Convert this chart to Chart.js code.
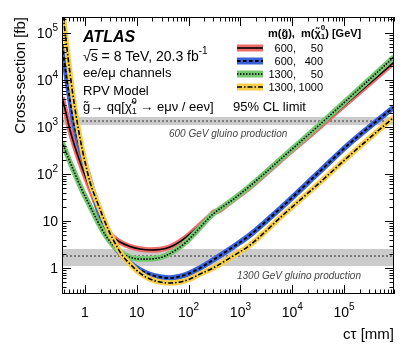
<!DOCTYPE html>
<html>
<head>
<meta charset="utf-8">
<script src="https://cdn.jsdelivr.net/npm/chart.js@4.4.0/dist/chart.umd.min.js"></script>
<style>
  html, body { margin: 0; padding: 0; background: #fff; }
  canvas { display: block; }
</style>
</head>
<body>
<canvas id="xsecChart" width="415" height="351"></canvas>
<script>
// c-tau [mm] and 95% CL cross-section limits [fb]
const ctRed = [0.36, 0.43, 0.513, 0.67, 0.914, 1.56, 2.33, 3.32, 4.74, 7.39, 11.5, 18.0, 28.1, 43.8, 68.2, 106, 166, 259, 309, 370, 505, 720, 1530, 6640, 30100, 131000, 920000];
const xsRed = [4350, 1990, 863, 324, 122, 26.6, 8.63, 4.80, 3.57, 2.87, 2.54, 2.42, 2.48, 2.80, 3.66, 5.29, 8.22, 12.8, 15.5, 16.3, 20.9, 28.0, 52.9, 219, 906, 3750, 24000];

const ctBlue = [0.36, 0.43, 0.53, 0.586, 0.733, 1.045, 1.56, 2.22, 3.04, 4.74, 7.39, 11.5, 18.0, 28.1, 43.8, 68.2, 106, 166, 296, 720, 1530, 6640, 30100, 131000, 920000];
const xsBlue = [55600, 14100, 3080, 1550, 529, 141, 30.8, 8.63, 3.94, 2.09, 1.28, 0.91, 0.727, 0.644, 0.613, 0.66, 0.78, 1.0, 1.48, 2.80, 5.04, 20.9, 100, 457, 2670];

const ctGreen = [0.36, 0.43, 0.513, 0.67, 0.875, 1.14, 1.49, 1.95, 2.54, 3.32, 4.34, 5.92, 9.23, 14.4, 22.5, 35.0, 54.6, 85.3, 133, 207, 296, 720, 1530, 6640, 30100, 131000, 920000];
const xsGreen = [480, 294, 180, 90.6, 45.7, 25.4, 14.1, 7.83, 4.80, 3.24, 2.42, 1.89, 1.59, 1.55, 1.59, 1.80, 2.36, 3.40, 5.56, 9.52, 14.1, 28.7, 55.6, 230, 1000, 4350, 30900];

const ctYellow = [0.36, 0.43, 0.513, 0.613, 0.733, 0.875, 1.045, 1.25, 1.78, 2.78, 3.79, 5.18, 7.39, 11.5, 18.0, 28.1, 43.8, 68.2, 106, 166, 296, 720, 1530, 6640, 30100, 131000, 920000];
const xsYellow = [394000, 71000, 14100, 3400, 1000, 357, 148, 67.6, 23.0, 6.76, 3.40, 1.89, 1.22, 0.78, 0.583, 0.504, 0.48, 0.504, 0.583, 0.745, 1.0, 1.80, 3.09, 13.4, 58.3, 254, 1630];

// gluino production cross-sections [fb]: low, central, high
const bandCt = [0.36, 920000];
const band600 = [1100, 1340, 1630];
const band1300 = [1.1, 1.8, 2.54];

// legend masses [GeV]
const gluinoMass = ['600,', '600,', '1300,', '1300,'];
const neutralinoMass = ['50', '400', '50', '1000'];

// axis ticks
const xMajor = [1, 10, 100, 1000, 10000, 100000];
const xLabels = ['1', '10', '10^2', '10^3', '10^4', '10^5'];
const yMajor = [1, 10, 100, 1000, 10000, 100000];
const yLabels = ['1', '10', '10^2', '10^3', '10^4', '10^5'];

const F = "'Liberation Sans', Arial, Helvetica, sans-serif";

const styles = [
    { band: '#ef6b6b', dash: [], lw: 1.6 },
    { band: '#3a62d8', dash: [3.5, 2.5], lw: 2 },
    { band: '#74c870', dash: [1.5, 1.5], lw: 1.6 },
    { band: '#f8cf48', dash: [5, 2, 1.5, 2], lw: 1.6 }
];

const pts = (xs, ys) => xs.map((x, i) => ({ x: x, y: ys[i] }));

const curves = [[ctRed, xsRed], [ctBlue, xsBlue], [ctGreen, xsGreen], [ctYellow, xsYellow]];
const datasets = [];

// grey production bands
[band600, band1300].forEach(function (b) {
    datasets.push({ data: pts(bandCt, [b[2], b[2]]), borderWidth: 0, pointRadius: 0, backgroundColor: '#cbcbcb', fill: '+1', order: 40 });
    datasets.push({ data: pts(bandCt, [b[0], b[0]]), borderWidth: 0, pointRadius: 0, fill: false, order: 39 });
    datasets.push({ data: pts(bandCt, [b[1], b[1]]), borderColor: '#7a7a7a', borderWidth: 2, borderDash: [2, 2], pointRadius: 0, fill: false, order: 38 });
});

// limit curves: coloured band + black line
curves.forEach(function (c, i) {
    const s = styles[i];
    datasets.push({ data: pts(c[0], c[1]), borderColor: s.band, borderWidth: 5.5, pointRadius: 0, fill: false,
        cubicInterpolationMode: 'monotone', order: 20 - 2 * i });
    datasets.push({ data: pts(c[0], c[1]), borderColor: '#000', borderWidth: s.lw, borderDash: s.dash, pointRadius: 0, fill: false,
        cubicInterpolationMode: 'monotone', order: 19 - 2 * i });
});

// text with super/subscripts: parts = [text, font, dy, advance]
function rich(ctx, x, y, parts, align) {
    let w = 0;
    const ws = parts.map(function (p) { ctx.font = p[1]; const m = ctx.measureText(p[0]).width; if (p[3] !== false) w += m; return m; });
    let cx = align === 'right' ? x - w : align === 'center' ? x - w / 2 : x;
    ctx.textAlign = 'left';
    parts.forEach(function (p, i) {
        ctx.font = p[1];
        ctx.fillText(p[0], cx, y + (p[2] || 0));
        if (p[3] !== false) cx += ws[i];
    });
}

function powLabel(lbl, size) {
    const k = lbl.split('^');
    const parts = [[k[0], size + 'px ' + F, 0]];
    if (k[1]) parts.push([k[1], Math.round(size * 0.7) + 'px ' + F, -7]);
    return parts;
}

function tickList(min, max) {
    const out = [];
    for (let d = Math.floor(Math.log10(min)); d <= Math.ceil(Math.log10(max)); d++) {
        for (let m = 1; m <= 9; m++) {
            const v = m * Math.pow(10, d);
            if (v >= min && v <= max) out.push([v, m === 1]);
        }
    }
    return out;
}

const decor = {
    id: 'decor',
    afterDatasetsDraw(chart) {
        const ctx = chart.ctx, a = chart.chartArea, sx = chart.scales.x, sy = chart.scales.y;
        ctx.save();
        ctx.fillStyle = '#000';
        ctx.strokeStyle = '#000';
        ctx.lineWidth = 1;
        ctx.setLineDash([]);
        ctx.strokeRect(a.left + 0.5, a.top + 0.5, a.right - a.left - 1, a.bottom - a.top - 1);

        // inward ticks on all four sides
        ctx.beginPath();
        tickList(sx.min, sx.max).forEach(function (t) {
            const p = Math.round(sx.getPixelForValue(t[0])) + 0.5, L = t[1] ? 9 : 4.5;
            ctx.moveTo(p, a.bottom); ctx.lineTo(p, a.bottom - L);
            ctx.moveTo(p, a.top); ctx.lineTo(p, a.top + L);
        });
        tickList(sy.min, sy.max).forEach(function (t) {
            const p = Math.round(sy.getPixelForValue(t[0])) + 0.5, L = t[1] ? 9 : 4.5;
            ctx.moveTo(a.left, p); ctx.lineTo(a.left + L, p);
            ctx.moveTo(a.right, p); ctx.lineTo(a.right - L, p);
        });
        ctx.stroke();

        // tick labels
        ctx.textBaseline = 'alphabetic';
        xMajor.forEach(function (v, i) {
            rich(ctx, sx.getPixelForValue(v), 317, powLabel(xLabels[i], 14), 'center');
        });
        yMajor.forEach(function (v, i) {
            rich(ctx, 58, sy.getPixelForValue(v) + 5, powLabel(yLabels[i], 14), 'right');
        });

        // axis titles
        ctx.font = '15px ' + F;
        ctx.textAlign = 'right';
        ctx.fillText('c\u03C4 [mm]', a.right, 339);
        ctx.save();
        ctx.translate(25, a.top);
        ctx.rotate(-Math.PI / 2);
        ctx.fillText('Cross-section [fb]', 0, 0);
        ctx.restore();

        // labels inside the frame
        ctx.font = 'italic bold 16px ' + F;
        ctx.textAlign = 'left';
        ctx.fillText('ATLAS', 83, 42);
        rich(ctx, 83, 61, [['\u221As = 8 TeV, 20.3 fb', '14px ' + F, 0], ['-1', '10px ' + F, -7]]);
        // overline of the square root over "s"
        ctx.font = '14px ' + F;
        const r0 = 83 + ctx.measureText('\u221A').width - 1, r1 = 83 + ctx.measureText('\u221As').width;
        ctx.lineWidth = 1;
        ctx.beginPath(); ctx.moveTo(r0, 49.5); ctx.lineTo(r1, 49.5); ctx.stroke();

        ctx.font = '13px ' + F;
        ctx.fillText('ee/e\u03BC channels', 83, 77);
        ctx.fillText('RPV Model', 83, 95);
        rich(ctx, 83, 111, [
            ['g\u0303\u2192 qq[\u03C7\u0303', '13px ' + F, 0],
            ['0', '9px ' + F, -7, false],
            ['1', '9px ' + F, 3],
            [' \u2192 e\u03BC\u03BD / ee\u03BD]', '13px ' + F, 0]
        ]);
        ctx.font = '13px ' + F;
        ctx.fillText('95% CL limit', 233, 111);

        ctx.fillStyle = '#444';
        ctx.font = 'italic 10px ' + F;
        ctx.fillText('600 GeV gluino production', 169, 137);
        ctx.fillText('1300 GeV gluino production', 237, 279);

        // legend
        ctx.fillStyle = '#000';
        rich(ctx, 268, 37, [
            ['m(g\u0303),  m(\u03C7\u0303', 'bold 11px ' + F, 0],
            ['0', 'bold 8px ' + F, -7, false],
            ['1', 'bold 8px ' + F, 2],
            [')', 'bold 11px ' + F, 0],
            [' [GeV]', 'bold 11px ' + F, 0]
        ]);
        styles.forEach(function (s, i) {
            const cy = 48 + 13 * i;
            ctx.fillStyle = s.band;
            ctx.fillRect(237, cy - 3.5, 26, 7);
            ctx.strokeStyle = '#000';
            ctx.lineWidth = s.lw;
            ctx.setLineDash(s.dash);
            ctx.beginPath();
            ctx.moveTo(237, cy); ctx.lineTo(263, cy);
            ctx.stroke();
            ctx.setLineDash([]);
            ctx.fillStyle = '#000';
            ctx.font = '11px ' + F;
            ctx.textAlign = 'right';
            ctx.fillText(gluinoMass[i], 296, cy + 4);
            ctx.fillText(neutralinoMass[i], 323, cy + 4);
        });
        ctx.restore();
    }
};

new Chart(document.getElementById('xsecChart').getContext('2d'), {
    type: 'line',
    data: { datasets: datasets },
    options: {
        responsive: false,
        animation: false,
        devicePixelRatio: 1,
        layout: { padding: { left: 62, right: 21, top: 17, bottom: 57 } },
        plugins: { legend: { display: false }, tooltip: { enabled: false } },
        scales: {
            x: { type: 'logarithmic', min: 0.36, max: 920000, display: false },
            y: { type: 'logarithmic', min: 0.28, max: 220000, display: false }
        }
    },
    plugins: [decor]
});
</script>
</body>
</html>
